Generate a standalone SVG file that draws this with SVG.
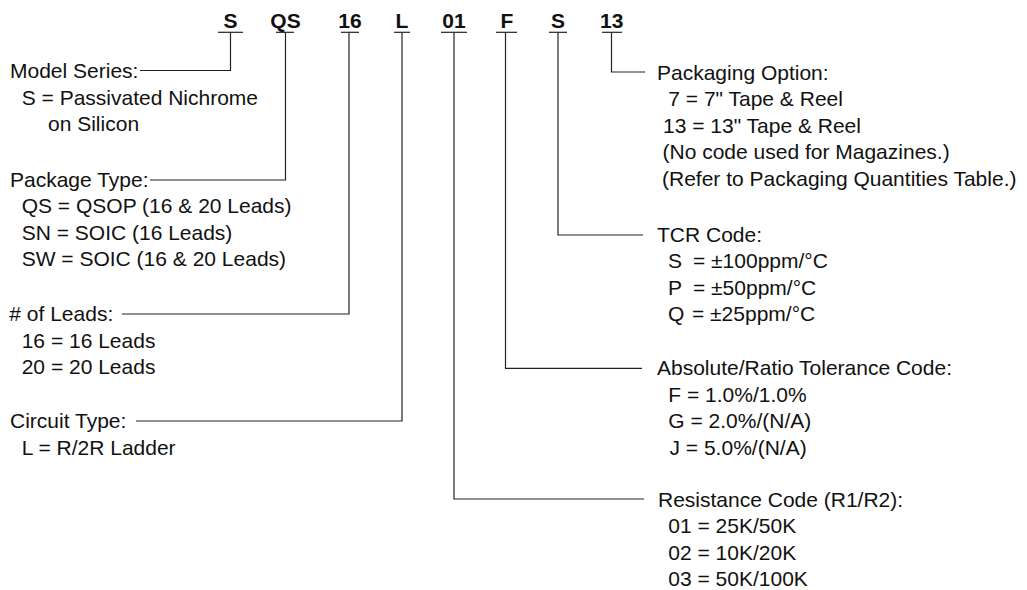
<svg xmlns="http://www.w3.org/2000/svg" width="1027" height="590" viewBox="0 0 1027 590">
<style>
.code{font-family:"Liberation Sans Narrow","Liberation Sans",Arial,sans-serif;font-weight:bold;font-size:21px;fill:#111;text-anchor:middle}
.t{font-family:"Liberation Sans",Arial,sans-serif;font-size:21px;fill:#111}
.ul{stroke:#222;stroke-width:1.2}
.ln{fill:none;stroke:#222;stroke-width:1.2}
</style>
<rect width="1027" height="590" fill="#fff"/>
<g id="code-series"><text class="code" x="230.5" y="28">S</text><line class="ul" x1="218" y1="32.3" x2="243" y2="32.3"/></g>
<g id="code-package"><text class="code" x="285.5" y="28">QS</text><line class="ul" x1="276" y1="32.3" x2="294" y2="32.3"/></g>
<g id="code-leads"><text class="code" x="350" y="28">16</text><line class="ul" x1="341" y1="32.3" x2="359" y2="32.3"/></g>
<g id="code-circuit"><text class="code" x="402" y="28">L</text><line class="ul" x1="394" y1="32.3" x2="410" y2="32.3"/></g>
<g id="code-resistance"><text class="code" x="454" y="28">01</text><line class="ul" x1="441" y1="32.3" x2="467" y2="32.3"/></g>
<g id="code-tolerance"><text class="code" x="507" y="28">F</text><line class="ul" x1="496" y1="32.3" x2="517" y2="32.3"/></g>
<g id="code-tcr"><text class="code" x="558" y="28">S</text><line class="ul" x1="549" y1="32.3" x2="567" y2="32.3"/></g>
<g id="code-packaging"><text class="code" x="611.7" y="28">13</text><line class="ul" x1="602" y1="32.3" x2="622" y2="32.3"/></g>

<g id="connectors">
<path class="ln" d="M230.5,32.3 V70.5 H140"/>
<path class="ln" d="M285.5,32.3 V180 H150"/>
<path class="ln" d="M349,32.3 V314 H122"/>
<path class="ln" d="M402,32.3 V421 H136"/>
<path class="ln" d="M454,32.3 V499 H644"/>
<path class="ln" d="M505.5,32.3 V368.3 H642"/>
<path class="ln" d="M558,32.3 V235 H643"/>
<path class="ln" d="M611.5,32.3 V72 H645"/>
</g>

<g id="model-series">
<text class="t" x="10" y="78">Model Series:</text>
<text class="t" x="21.7" y="104.5">S = Passivated Nichrome</text>
<text class="t" x="48" y="131">on Silicon</text>
</g>
<g id="package-type">
<text class="t" x="10" y="186.7">Package Type:</text>
<text class="t" x="21.7" y="213.2">QS = QSOP (16 &amp; 20 Leads)</text>
<text class="t" x="21.7" y="239.7">SN = SOIC (16 Leads)</text>
<text class="t" x="21.7" y="266.2">SW = SOIC (16 &amp; 20 Leads)</text>
</g>
<g id="num-leads">
<text class="t" x="9.3" y="321">&#35; of Leads:</text>
<text class="t" x="21.7" y="347.5">16 = 16 Leads</text>
<text class="t" x="21.7" y="374">20 = 20 Leads</text>
</g>
<g id="circuit-type">
<text class="t" x="10" y="428">Circuit Type:</text>
<text class="t" x="21.7" y="454.5">L = R/2R Ladder</text>
</g>
<g id="packaging-option">
<text class="t" x="657" y="79.5">Packaging Option:</text>
<text class="t" x="668.3" y="106">7 = 7" Tape &amp; Reel</text>
<text class="t" x="663" y="132.5">13 = 13" Tape &amp; Reel</text>
<text class="t" x="662.5" y="159">(No code used for Magazines.)</text>
<text class="t" x="662" y="185.5">(Refer to Packaging Quantities Table.)</text>
</g>
<g id="tcr-code">
<text class="t" x="657" y="241.5">TCR Code:</text>
<text class="t" y="268"><tspan x="668">S</tspan><tspan x="693">= ±100ppm/°C</tspan></text>
<text class="t" y="294.5"><tspan x="668">P</tspan><tspan x="693">= ±50ppm/°C</tspan></text>
<text class="t" y="321"><tspan x="668">Q</tspan><tspan x="692">= ±25ppm/°C</tspan></text>
</g>
<g id="tolerance-code">
<text class="t" x="657" y="375.3">Absolute/Ratio Tolerance Code:</text>
<text class="t" x="668.3" y="401.8">F = 1.0%/1.0%</text>
<text class="t" x="668.3" y="428.3">G = 2.0%/(N/A)</text>
<text class="t" x="669.5" y="454.8">J = 5.0%/(N/A)</text>
</g>
<g id="resistance-code">
<text class="t" x="658" y="506.5">Resistance Code (R1/R2):</text>
<text class="t" x="668.3" y="533">01 = 25K/50K</text>
<text class="t" x="668.3" y="559.5">02 = 10K/20K</text>
<text class="t" x="668.3" y="586">03 = 50K/100K</text>
</g>
</svg>
